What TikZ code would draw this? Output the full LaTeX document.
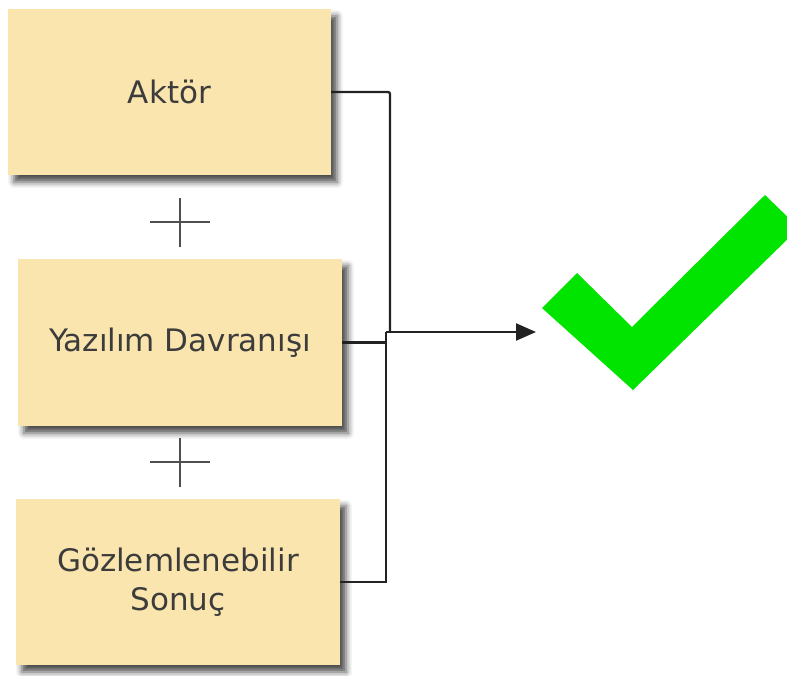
\documentclass[tikz,border=0pt]{standalone}
\usepackage{fontspec}
\setmainfont{DejaVu Sans}
\usetikzlibrary{shadows.blur,arrows.meta,calc}
\definecolor{boxfill}{HTML}{FAE5AE}
\definecolor{txt}{HTML}{3C3C3C}
\definecolor{wire}{HTML}{222222}
\definecolor{okgreen}{HTML}{00E400}
\tikzset{
  factor/.style={rectangle, fill=boxfill, draw=none, text=txt, align=center,
    font=\fontsize{31}{39}\selectfont,
    blur shadow={shadow xshift=6pt, shadow yshift=-7pt, shadow blur radius=6pt, shadow opacity=70}},
  wireline/.style={draw=wire, line width=2.3pt},
  plusline/.style={draw=wire!80, line width=2pt},
}
\begin{document}
\begin{tikzpicture}[x=1pt,y=-1pt]
\useasboundingbox (0,0) rectangle (787,675);

% the three factor boxes
\node[factor, minimum width=323pt, minimum height=166pt] (a) at (169.5,92) {Aktör};
\node[factor, minimum width=324pt, minimum height=167pt] (b) at (180,342.5) {Yazılım Davranışı};
\node[factor, minimum width=324pt, minimum height=166pt] (c) at (178,582) {Gözlemlenebilir\\Sonuç};

% plus signs between the boxes
\coordinate (p1) at (180,222);
\coordinate (p2) at (180,462);
\foreach \p in {p1,p2}{
  \draw[plusline] ($(\p)+(-30,0)$) -- ($(\p)+(30,0)$);
  \draw[plusline] ($(\p)+(0,-24)$) -- ($(\p)+(0,25)$);
}

% connectors joining into one arrow
\coordinate (ja) at (390,332);
\coordinate (jm) at (386,332);
\coordinate (tgt) at (536,332);
\draw[wireline, rounded corners=2pt] (a.east) -| (ja);
\draw[wireline] (b.east) -| (jm);
\draw[wireline] (c.east) -| (jm);
\draw[wireline, -{Triangle[length=20pt, width=17pt]}] (jm) -- (tgt);

% green check mark
\begin{scope}
  \clip (0,0) rectangle (787,675);
  \fill[okgreen] (542,308) -- (577,273) -- (632,327) -- (765,195) -- (799,228) -- (633,390) -- cycle;
\end{scope}
\end{tikzpicture}
\end{document}
